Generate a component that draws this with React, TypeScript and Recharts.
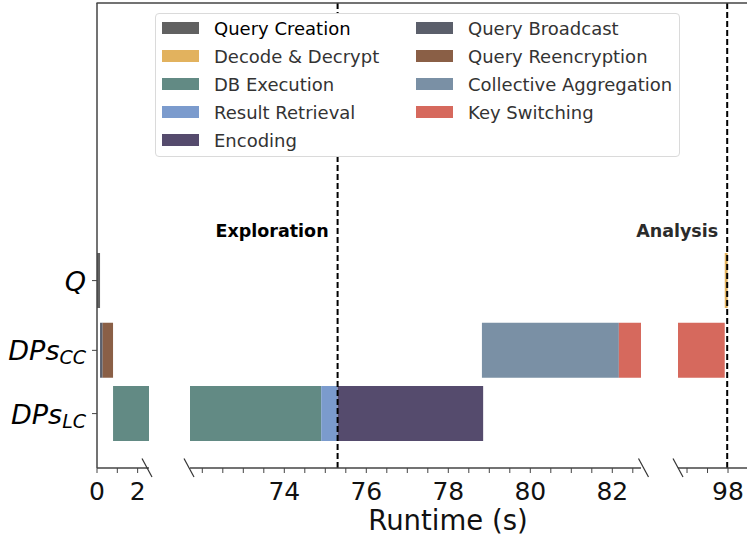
import React from 'react';
import { BarChart, Bar, XAxis, YAxis, Cell, ReferenceLine } from 'recharts';

// rows of the timeline (top to bottom) and where they sit on the y scale
const ROWS = ['Q', 'DPs_CC', 'DPs_LC'];
const ROW_LEVEL = [4.03, 2.53, 1.17];

// legend order (matplotlib fills column first)
const TASKS = [
  'Query Creation',
  'Decode & Decrypt',
  'DB Execution',
  'Result Retrieval',
  'Encoding',
  'Query Broadcast',
  'Query Reencryption',
  'Collective Aggregation',
  'Key Switching',
];
const TASK_COLORS = [
  '#616161',
  '#e2b25e',
  '#628a84',
  '#7b9bcd',
  '#554b6d',
  '#5b5f6b',
  '#8a5f46',
  '#7a90a5',
  '#d6695d',
];

// [task, start (s), end (s)]
const Q_SEGMENTS: [string, number, number][] = [
  ['Query Creation', 0, 0.15],
  ['Decode & Decrypt', 97.92, 97.99],
];
const CC_SEGMENTS: [string, number, number][] = [
  ['Query Broadcast', 0.15, 0.28],
  ['Query Reencryption', 0.28, 0.79],
  ['Collective Aggregation', 78.82, 82.16],
  ['Key Switching', 82.16, 97.92],
];
const LC_SEGMENTS: [string, number, number][] = [
  ['DB Execution', 0.79, 74.9],
  ['Result Retrieval', 74.9, 75.3],
  ['Encoding', 75.3, 78.85],
];

const EXPLORATION_END = 75.3;
const ANALYSIS_END = 97.98;

const TICKS_LOW = [0, 1, 2];
const TICKS_MID = [72, 72.5, 73, 73.5, 74, 74.5, 75, 75.5, 76, 76.5, 77, 77.5, 78, 78.5, 79, 79.5, 80, 80.5, 81, 81.5, 82, 82.5];
const TICKS_HIGH = [97, 97.5, 98, 98.5];
const TICK_LABELS = [0, 2, 74, 76, 78, 80, 82, 98];

const FONT = '"DejaVu Sans", sans-serif';
const AXIS_COLOR = '#444';
const H = 541;
const X_AXIS_H = 73;
const TOP = 3;

const segments = [Q_SEGMENTS, CC_SEGMENTS, LC_SEGMENTS].flatMap((segs, r) =>
  segs.map(([task, start, end]) => ({ row: ROW_LEVEL[r], task, range: [start, end] }))
);
const colorOf = (task: string) => TASK_COLORS[TASKS.indexOf(task)];

const TimeTick = (props: any) => {
  const { x, y, payload } = props;
  if (!TICK_LABELS.includes(payload.value)) return null;
  return (
    <text x={x} y={y + 25} textAnchor="middle" fontFamily={FONT} fontSize={25} fill="#111">
      {payload.value}
    </text>
  );
};

const RowTick = (props: any) => {
  const { x, y, payload } = props;
  const name = ROWS[ROW_LEVEL.indexOf(payload.value)] || '';
  const [main, sub] = name.split('_');
  return (
    <text x={x - 4} y={y + 10} textAnchor="end" fontFamily={FONT} fontStyle="italic" fontSize={27} fill="#000">
      {main}
      {sub && (
        <tspan fontSize={19} dy={4}>
          {sub}
        </tspan>
      )}
    </text>
  );
};

const phaseLabel = (text: string, color: string) => (props: any) => {
  const vb = props.viewBox || {};
  return (
    <text x={vb.x - 9} y={237} textAnchor="end" fontFamily={FONT} fontWeight="bold" fontSize={17.5} fill={color}>
      {text}
    </text>
  );
};

interface PanelProps {
  left: number;
  width: number;
  gutter?: number;
  domain: [number, number];
  ticks: number[];
  showRows?: boolean;
  children?: React.ReactNode;
}

const Panel = ({ left, width, gutter = 0, domain, ticks, showRows, children }: PanelProps) => (
  <div style={{ position: 'absolute', left: left - gutter, top: 0 }}>
    <BarChart
      width={width + gutter}
      height={H}
      layout="vertical"
      data={segments}
      margin={{ top: TOP, right: 0, bottom: 0, left: gutter }}
    >
      <XAxis
        type="number"
        domain={domain}
        allowDataOverflow
        ticks={ticks}
        interval={0}
        height={X_AXIS_H}
        tickSize={5}
        tick={<TimeTick />}
        axisLine={{ stroke: AXIS_COLOR, strokeWidth: 1.5 }}
        tickLine={{ stroke: AXIS_COLOR }}
      />
      <YAxis
        type="number"
        dataKey="row"
        domain={[0, 10]}
        reversed
        ticks={ROW_LEVEL}
        interval={0}
        hide={!showRows}
        width={97}
        tickSize={5}
        tick={<RowTick />}
        axisLine={{ stroke: AXIS_COLOR, strokeWidth: 1.5 }}
        tickLine={{ stroke: AXIS_COLOR }}
      />
      <Bar dataKey="range" barSize={55} isAnimationActive={false}>
        {segments.map((s, i) => (
          <Cell key={i} fill={colorOf(s.task)} />
        ))}
      </Bar>
      {children}
    </BarChart>
  </div>
);

const BreakMark = ({ x }: { x: number }) => (
  <line x1={x - 5} y1={458.5} x2={x + 5} y2={477} stroke="#333" strokeWidth={1.2} />
);

export default function App() {
  const legendLeft = TASKS.slice(0, 5);
  const legendRight = TASKS.slice(5);
  const item = (task: string, i: number, col: number) => (
    <div
      key={task}
      style={{
        position: 'absolute',
        left: col === 0 ? 6 : 260,
        top: 14 + i * 28 - 10,
        height: 20,
        display: 'flex',
        alignItems: 'center',
      }}
    >
      <div style={{ width: 37, height: 12, background: colorOf(task) }} />
      <span
        style={{
          marginLeft: 15,
          fontFamily: FONT,
          fontSize: 18,
          color: task === 'Query Creation' ? '#000' : '#333',
          whiteSpace: 'nowrap',
        }}
      >
        {task}
      </span>
    </div>
  );

  return (
    <div style={{ position: 'absolute', left: 0, top: 0, width: 747, height: H, overflow: 'hidden', background: '#fff' }}>
      <Panel left={0} width={149} domain={[0, 2.56]} ticks={TICKS_LOW} showRows />
      <Panel left={190} width={451} gutter={60} domain={[71.7, 82.7]} ticks={TICKS_MID}>
        <ReferenceLine
          x={EXPLORATION_END}
          stroke="#000"
          strokeWidth={2}
          strokeDasharray="6 3"
          label={phaseLabel('Exploration', '#000')}
        />
      </Panel>
      <Panel left={678} width={82} gutter={80} domain={[96.78, 98.78]} ticks={TICKS_HIGH}>
        <ReferenceLine
          x={ANALYSIS_END}
          stroke="#000"
          strokeWidth={2}
          strokeDasharray="6 3"
          label={phaseLabel('Analysis', '#2b2b2b')}
        />
      </Panel>

      {/* axis label spans the whole broken axis */}
      <div
        style={{
          position: 'absolute',
          left: 97,
          width: 702,
          top: 504,
          textAlign: 'center',
          fontFamily: FONT,
          fontSize: 27.5,
          color: '#111',
        }}
      >
        Runtime (s)
      </div>

      {/* top spine and axis break marks */}
      <svg width={747} height={H} style={{ position: 'absolute', left: 0, top: 0, pointerEvents: 'none' }}>
        <line x1={96.5} y1={3} x2={747} y2={3} stroke={AXIS_COLOR} strokeWidth={1.5} />
        <BreakMark x={147} />
        <BreakMark x={189} />
        <BreakMark x={643.5} />
        <BreakMark x={678} />
      </svg>

      <div
        style={{
          position: 'absolute',
          left: 155,
          top: 13,
          width: 525,
          height: 144,
          boxSizing: 'border-box',
          border: '1px solid #dadada',
          borderRadius: 4,
          background: '#fff',
        }}
      >
        {legendLeft.map((t, i) => item(t, i, 0))}
        {legendRight.map((t, i) => item(t, i, 1))}
      </div>
    </div>
  );
}
